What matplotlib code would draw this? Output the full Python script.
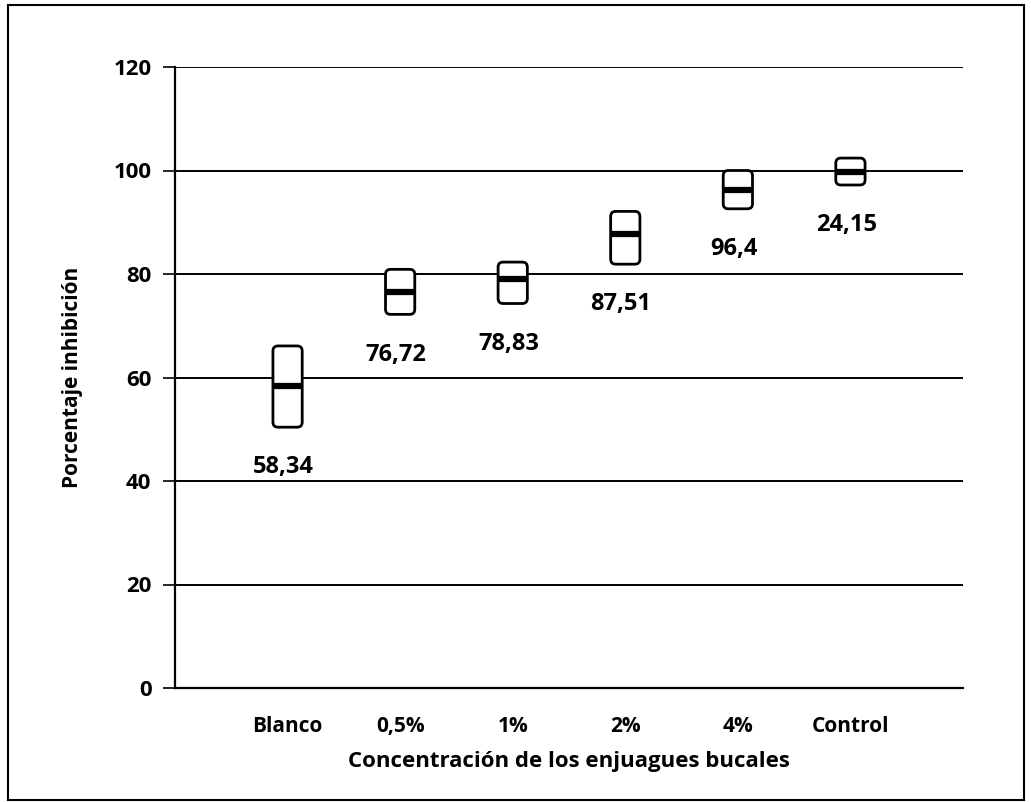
import numpy as np
import matplotlib
matplotlib.use("Agg")
import matplotlib.pyplot as plt
from matplotlib.patches import FancyBboxPatch, Rectangle

plt.rcParams['font.family'] = ['Open Sans', 'DejaVu Sans']

categories = ["Blanco", "0,5%", "1%", "2%", "4%", "Control"]
high = [66.1, 80.9, 82.3, 92.1, 100.0, 102.4]
low = [50.4, 72.2, 74.3, 81.9, 92.6, 97.2]
median = [58.4, 76.6, 79.0, 87.7, 96.2, 99.7]
value_labels = ["58,34", "76,72", "78,83", "87,51", "96,4", "24,15"]
yticks = [0, 20, 40, 60, 80, 100, 120]

W, H = 1031, 802
fig = plt.figure(figsize=(W / 100, H / 100), dpi=100)
ax = fig.add_axes([175 / W, 1 - 688 / H, (963 - 175) / W, (688 - 67) / H])

ax.set_xlim(0, 7)
ax.set_ylim(0, 120)

# px per data unit, for round corners that look round
px_x = (963 - 175) / 7
px_y = (688 - 67) / 120
aspect = px_x / px_y

for v in yticks[1:]:
    ax.axhline(v, color='black', lw=1.4, zorder=1)

bw = 0.26
xs = np.arange(1, len(categories) + 1)
for x, lo, hi, md in zip(xs, low, high, median):
    box = FancyBboxPatch((x - bw / 2, lo), bw, hi - lo,
                         boxstyle="round,pad=0,rounding_size=0.045",
                         mutation_aspect=aspect,
                         facecolor='white', edgecolor='black', lw=2.0, zorder=3)
    ax.add_patch(box)
    ax.plot([x - bw / 2, x + bw / 2], [md, md], color='black', lw=4.5,
            solid_capstyle='butt', zorder=4)

for x, lo, lab in zip(xs, low, value_labels):
    ax.annotate(lab, (x, lo), xytext=(-3, -29), textcoords='offset points',
                ha='center', va='center', fontsize=17, fontweight='bold', zorder=5)

ax.set_xticks(xs)
ax.set_xticklabels(categories, fontsize=15, fontweight='bold')
ax.tick_params(axis='x', length=0, pad=20)
ax.set_yticks(yticks)
ax.set_yticklabels([str(v) for v in yticks], fontsize=16, fontweight='bold')
ax.tick_params(axis='y', length=9, width=1.2, pad=8, direction='out')

for s in ['top', 'right']:
    ax.spines[s].set_visible(False)
ax.spines['left'].set_linewidth(1.6)
ax.spines['bottom'].set_linewidth(1.6)

ax.set_xlabel("Concentración de los enjuagues bucales", fontsize=16,
              fontweight='bold', labelpad=10)
ax.set_ylabel("Porcentaje inhibición", fontsize=15, fontweight='bold', labelpad=22)

# outer frame
fig.patches.append(Rectangle((8 / W, 2 / H), (1024 - 8) / W, (797 - 2) / H,
                             transform=fig.transFigure, fill=False,
                             edgecolor='black', lw=1.5))

fig.savefig("out.png", dpi=100)
